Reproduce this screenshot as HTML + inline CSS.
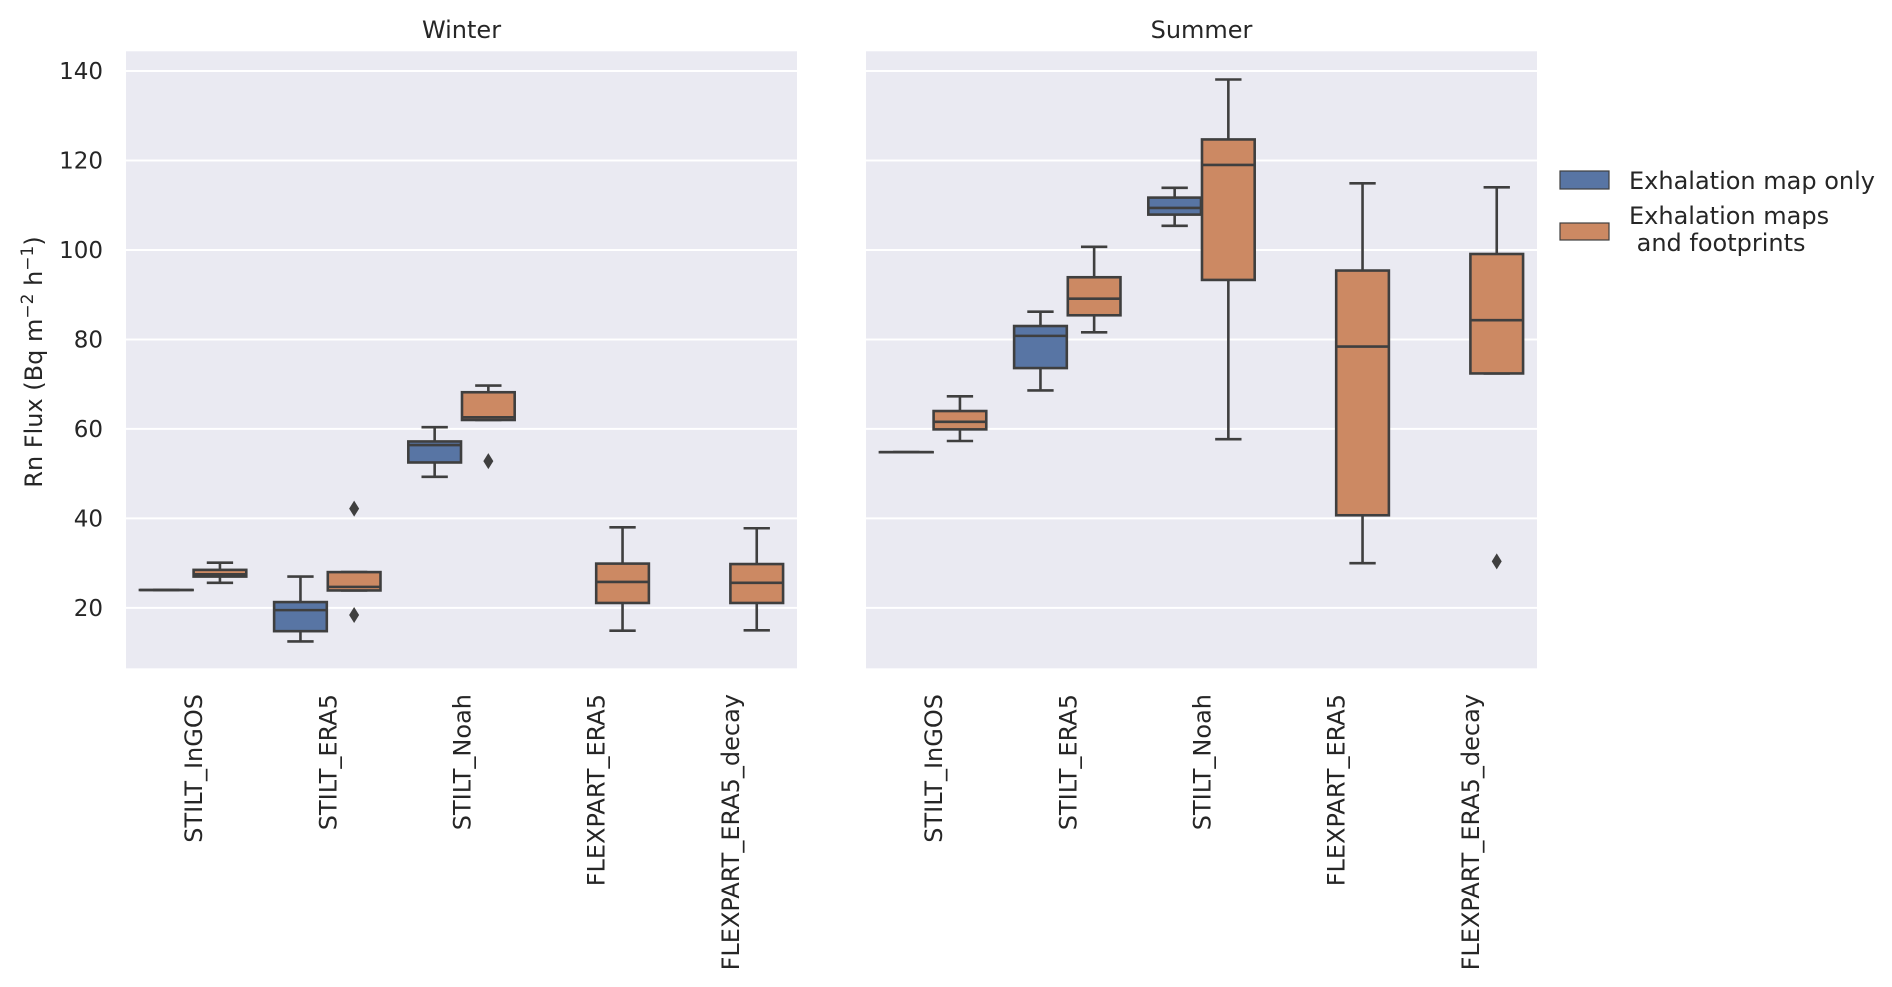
<!DOCTYPE html>
<html><head><meta charset="utf-8"><style>
html,body{margin:0;padding:0;background:#fff;}
svg{display:block;font-family:"DejaVu Sans","Liberation Sans",sans-serif;}
</style></head><body>
<svg id="chart" width="1892" height="987" viewBox="0 0 1892 987" xmlns="http://www.w3.org/2000/svg">
<g id="root"></g>
</svg>
<script>
const categories = ["STILT_InGOS","STILT_ERA5","STILT_Noah","FLEXPART_ERA5","FLEXPART_ERA5_decay"];
const seasons = ["Winter","Summer"];
const seriesNames = ["Exhalation map only","Exhalation maps and footprints"];
const yTicks = [20,40,60,80,100,120,140];
// each stat: [low whisker, q1, median, q3, high whisker] or null
const winterBlue = [[24,24,24,24,24],[12.5,14.8,19.5,21.3,27],[49.3,52.5,56.4,57.2,60.4],null,null];
const winterOrange = [[25.6,27,27.5,28.5,30.1],[23.9,23.9,24.7,28,28],[62,62,62.6,68.2,69.7],[14.9,21.1,25.8,29.9,38],[15,21.1,25.6,29.8,37.8]];
const summerBlue = [[54.8,54.8,54.8,54.8,54.8],[68.6,73.6,80.8,83,86.2],[105.4,107.9,109.4,111.7,113.9],null,null];
const summerOrange = [[57.3,59.9,61.6,64,67.3],[81.6,85.4,89.1,93.9,100.7],[57.7,93.3,119,124.7,138.1],[30,40.7,78.4,95.4,114.9],[72.4,72.4,84.3,99.1,114]];
const winterBlueOut = [[],[],[],[],[]];
const winterOrangeOut = [[],[42.2,18.4],[52.8],[],[]];
const summerBlueOut = [[],[],[],[],[]];
const summerOrangeOut = [[],[],[],[],[30.4]];

const NS="http://www.w3.org/2000/svg";
const rootG=document.getElementById('root');
function el(tag,attrs,parent){const e=document.createElementNS(NS,tag);for(const k in attrs)e.setAttribute(k,attrs[k]);(parent||rootG).appendChild(e);return e;}
const yMin=6.5,yMax=144.4,plotTop=51.3,plotBot=668.3;
function yScale(v){return plotBot-(v-yMin)/(yMax-yMin)*(plotBot-plotTop);}
const panels=[{x0:126,x1:797,data:[winterBlue,winterOrange],out:[winterBlueOut,winterOrangeOut]},{x0:866,x1:1537,data:[summerBlue,summerOrange],out:[summerBlueOut,summerOrangeOut]}];
const colors=["#5875a4","#cc8963"],edge="#3f3f3f";
panels.forEach((p,pi)=>{
  const g=el('g',{});
  
  
  const bg=el('rect',{x:p.x0,y:plotTop,width:p.x1-p.x0,height:plotBot-plotTop,fill:"#eaeaf2"},g);
  
  
  yTicks.forEach(t=>{
    const l=el('line',{x1:p.x0,x2:p.x1,y1:yScale(t),y2:yScale(t),stroke:"#fff","stroke-width":2},g);
    
    
    if(pi===0){
      const tx=el('text',{x:103,y:yScale(t)+8,"text-anchor":"end","font-size":23,fill:"#262626"});
      tx.textContent=t;
      
      
    }
  });
  const tt=el('text',{x:(p.x0+p.x1)/2,y:38,"text-anchor":"middle","font-size":24,fill:"#262626"});
  tt.textContent=seasons[pi];
  
  
  const cw=(p.x1-p.x0)/categories.length;
  categories.forEach((c,ci)=>{
    const cx=p.x0+cw*(ci+0.5);
    const lab=el('text',{transform:`translate(${cx+9},694) rotate(-90)`,"text-anchor":"end","font-size":24,fill:"#262626"});
    lab.textContent=c;
    
    
    [0,1].forEach(h=>{
      const s=p.data[h][ci];
      const bx=cx+(h===0?-0.2:0.2)*cw, bw=0.4*cw-1;
      const bg2=el('g',{},g);
      
      
      if(s){
        const lo=s[0],q1=s[1],md=s[2],q3=s[3],hi=s[4];
        const cap=bw/2;
        el('line',{x1:bx,x2:bx,y1:yScale(hi),y2:yScale(q3),stroke:edge,"stroke-width":2.6},bg2);
        el('line',{x1:bx,x2:bx,y1:yScale(q1),y2:yScale(lo),stroke:edge,"stroke-width":2.6},bg2);
        el('line',{x1:bx-cap/2,x2:bx+cap/2,y1:yScale(hi),y2:yScale(hi),stroke:edge,"stroke-width":2.6},bg2);
        el('line',{x1:bx-cap/2,x2:bx+cap/2,y1:yScale(lo),y2:yScale(lo),stroke:edge,"stroke-width":2.6},bg2);
        el('rect',{x:bx-bw/2,y:yScale(q3),width:bw,height:Math.max(0.01,yScale(q1)-yScale(q3)),fill:colors[h],stroke:edge,"stroke-width":2.6},bg2);
        el('line',{x1:bx-bw/2,x2:bx+bw/2,y1:yScale(md),y2:yScale(md),stroke:edge,"stroke-width":2.6},bg2);
      }
      p.out[h][ci].forEach(o=>{
        const yy=yScale(o);
        const d=el('path',{d:`M${bx},${yy-8} L${bx+5},${yy} L${bx},${yy+8} L${bx-5},${yy} Z`,fill:edge},bg2);
        
        
      });
    });
  });
});
const yl=el('text',{transform:"translate(42,362) rotate(-90)","text-anchor":"middle","font-size":24,fill:"#262626"});
yl.innerHTML='Rn Flux (Bq m<tspan dy="-9" font-size="17">−2</tspan><tspan dy="9"> h</tspan><tspan dy="-9" font-size="17">−1</tspan><tspan dy="9">)</tspan>';


// legend
const lg=el('g',{});


const e1=el('g',{},lg);


el('rect',{x:1560,y:171,width:49,height:18,fill:colors[0],stroke:edge,"stroke-width":1.2},e1);
const t1=el('text',{x:1629,y:189,"font-size":24,fill:"#262626"},e1);t1.textContent="Exhalation map only";
const e2=el('g',{},lg);


el('rect',{x:1560,y:223,width:49,height:17,fill:colors[1],stroke:edge,"stroke-width":1.2},e2);
const t2=el('text',{x:1629,y:224,"font-size":24,fill:"#262626"},e2);t2.textContent="Exhalation maps";
const t3=el('text',{x:1629,y:251,"font-size":24,fill:"#262626",style:"white-space:pre"},e2);t3.textContent=" and footprints";
</script>
</body></html>
